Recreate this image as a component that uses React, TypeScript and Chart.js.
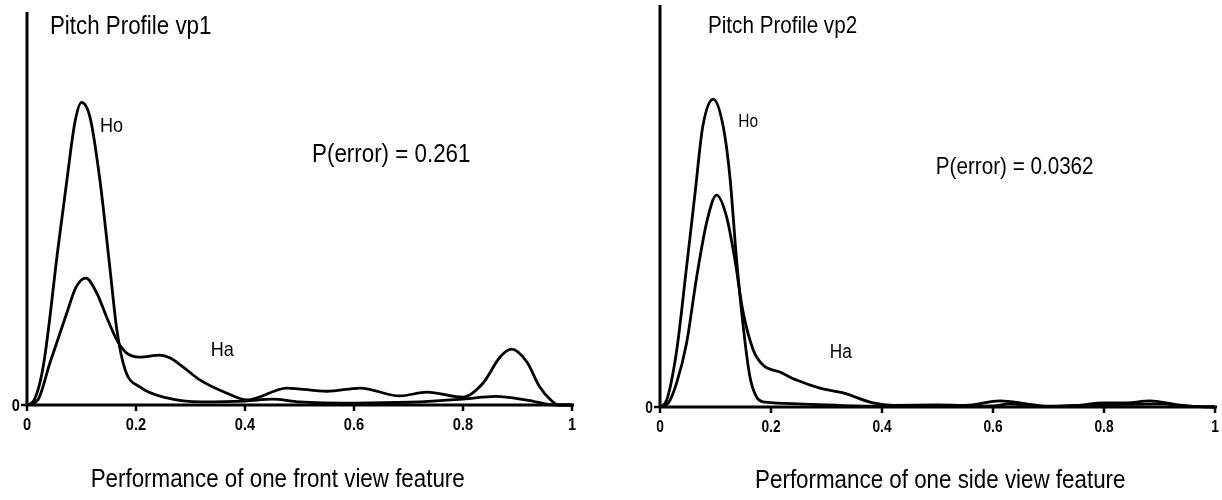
import React, { useEffect, useRef } from "react";
import { Chart, registerables } from "chart.js";

Chart.register(...registerables);

// ---------- data ----------
const xTickValues = [0, 0.2, 0.4, 0.6, 0.8, 1];
const xTickLabels = ["0", "0.2", "0.4", "0.6", "0.8", "1"];
const yTickValues = [0];
const yTickLabels = ["0"];

// Pitch Profile vp1 — Ho
const vp1HoX = [0, 0.011, 0.03, 0.057, 0.073, 0.088, 0.1, 0.116, 0.134, 0.152, 0.165, 0.18, 0.207, 0.257, 0.32, 0.4, 0.45, 0.5, 0.6, 0.7, 0.8, 0.86, 0.92, 0.97, 1];
const vp1HoY = [0, 0.8, 10, 40, 57, 72, 77, 73, 57, 35, 19, 9, 4.6, 1.8, 0.8, 1.0, 1.5, 0.8, 0.5, 0.7, 1.5, 2.2, 1.2, 0, 0];

// Pitch Profile vp1 — Ha
const vp1HaX = [0, 0.02, 0.042, 0.073, 0.09, 0.108, 0.128, 0.146, 0.165, 0.183, 0.207, 0.244, 0.262, 0.286, 0.317, 0.367, 0.404, 0.477, 0.55, 0.611, 0.684, 0.734, 0.8, 0.837, 0.868, 0.889, 0.917, 0.94, 0.963, 0.975, 1];
const vp1HaY = [0, 1.3, 10.7, 23.4, 30, 32.3, 28.5, 22.4, 16.5, 13.2, 12.2, 12.7, 12, 9.7, 6.4, 3, 1.3, 4.3, 3.5, 4.3, 2.3, 3.3, 2.0, 5.6, 12.2, 14.2, 11, 4.8, 1, 0, 0];

// Pitch Profile vp2 — Ho
const vp2HoX = [0, 0.012, 0.03, 0.048, 0.063, 0.077, 0.096, 0.114, 0.126, 0.138, 0.15, 0.162, 0.174, 0.19, 0.25, 0.35, 0.45, 0.6, 0.63, 0.68, 0.8, 0.9, 0.95, 1];
const vp2HoY = [0, 1.7, 14, 35, 53, 69.7, 76.6, 69.7, 57.2, 36.6, 20, 7.5, 2.5, 1.2, 0.8, 0.3, 0.2, 0.3, 0.8, 0.2, 0.5, 0.8, 0.2, 0];

// Pitch Profile vp2 — Ha
const vp2HaX = [0, 0.015, 0.03, 0.048, 0.066, 0.085, 0.102, 0.12, 0.135, 0.149, 0.168, 0.186, 0.216, 0.246, 0.288, 0.33, 0.384, 0.42, 0.5, 0.55, 0.613, 0.66, 0.7, 0.75, 0.8, 0.84, 0.883, 0.93, 0.97, 1];
const vp2HaY = [0, 1, 6, 16, 32.3, 46.5, 52.7, 47.3, 36.6, 24.1, 14.2, 10.4, 8.7, 6.7, 4.7, 3.5, 1, 0.4, 0.5, 0.4, 1.5, 0.8, 0.1, 0.4, 1.0, 1.0, 1.5, 0.6, 0.1, 0];

// ---------- styling ----------
const FONT = '"Liberation Sans", Arial, Helvetica, sans-serif';
const NARROW = 0.86;

type Note = { text: string; x: number; y: number; size: number };

type Panel = {
  width: number;
  padding: { left: number; right: number; top: number; bottom: number };
  series: { x: number[]; y: number[] }[];
  notes: Note[];
  axisTitle: string;
  axisTitleX: number;
  axisTitleOffset: number;
  tickSize: number;
  tickLabelOffset: number;
};

const panels: Panel[] = [
  {
    width: 611,
    padding: { left: 27, right: 39, top: 12, bottom: 95 },
    series: [
      { x: vp1HoX, y: vp1HoY },
      { x: vp1HaX, y: vp1HaY },
    ],
    notes: [
      { text: "Pitch Profile vp1", x: 0.042, y: 94.4, size: 26 },
      { text: "Ho", x: 0.134, y: 69.5, size: 21 },
      { text: "Ha", x: 0.337, y: 12.5, size: 21 },
      { text: "P(error) = 0.261", x: 0.523, y: 61.8, size: 26 },
    ],
    axisTitle: "Performance of one front view feature",
    axisTitleX: 0.46,
    axisTitleOffset: 82,
    tickSize: 17,
    tickLabelOffset: 25,
  },
  {
    width: 611,
    padding: { left: 49, right: 7, top: 5, bottom: 93 },
    series: [
      { x: vp2HoX, y: vp2HoY },
      { x: vp2HaX, y: vp2HaY },
    ],
    notes: [
      { text: "Pitch Profile vp2", x: 0.0865, y: 93, size: 24 },
      { text: "Ho", x: 0.141, y: 69.7, size: 18 },
      { text: "Ha", x: 0.306, y: 12.2, size: 20 },
      { text: "P(error) = 0.0362", x: 0.497, y: 58, size: 24 },
    ],
    axisTitle: "Performance of one side view feature",
    axisTitleX: 0.505,
    axisTitleOffset: 81,
    tickSize: 16,
    tickLabelOffset: 25,
  },
];

function drawText(
  ctx: CanvasRenderingContext2D,
  text: string,
  x: number,
  y: number,
  size: number,
  bold: boolean,
  align: CanvasTextAlign
) {
  ctx.save();
  ctx.font = `${bold ? "bold " : ""}${size}px ${FONT}`;
  ctx.textAlign = align;
  ctx.textBaseline = "alphabetic";
  ctx.fillStyle = "#000";
  ctx.translate(x, y);
  ctx.scale(NARROW, 1);
  ctx.fillText(text, 0, 0);
  ctx.restore();
}

function makePlugin(panel: Panel) {
  return {
    id: "axesAndNotes",
    afterDraw(chart: any) {
      const ctx: CanvasRenderingContext2D = chart.ctx;
      const xs = chart.scales.x;
      const ys = chart.scales.y;
      const x0 = xs.getPixelForValue(0);
      const x1 = xs.getPixelForValue(1);
      const y0 = ys.getPixelForValue(0);
      const yTop = ys.getPixelForValue(100);
      ctx.save();
      ctx.strokeStyle = "#000";
      ctx.lineCap = "butt";
      // x axis
      ctx.lineWidth = 3;
      ctx.beginPath();
      ctx.moveTo(x0 - 1, y0);
      ctx.lineTo(x1 + 2, y0);
      ctx.stroke();
      // y axis
      ctx.beginPath();
      ctx.moveTo(x0, y0 + 1);
      ctx.lineTo(x0, yTop);
      ctx.stroke();
      // x ticks
      ctx.lineWidth = 2.5;
      xTickValues.forEach((v) => {
        const px = xs.getPixelForValue(v);
        ctx.beginPath();
        ctx.moveTo(px, y0);
        ctx.lineTo(px, y0 + 6);
        ctx.stroke();
      });
      // y ticks
      yTickValues.forEach((v) => {
        const py = ys.getPixelForValue(v);
        ctx.beginPath();
        ctx.moveTo(x0 - 6, py);
        ctx.lineTo(x0, py);
        ctx.stroke();
      });
      ctx.restore();

      xTickValues.forEach((v, i) => {
        drawText(ctx, xTickLabels[i], xs.getPixelForValue(v), y0 + panel.tickLabelOffset, panel.tickSize, true, "center");
      });
      yTickValues.forEach((v, i) => {
        drawText(ctx, yTickLabels[i], x0 - 7, ys.getPixelForValue(v) + 6, panel.tickSize, true, "right");
      });

      panel.notes.forEach((n) => {
        drawText(ctx, n.text, xs.getPixelForValue(n.x), ys.getPixelForValue(n.y), n.size, false, "left");
      });

      drawText(ctx, panel.axisTitle, xs.getPixelForValue(panel.axisTitleX), y0 + panel.axisTitleOffset, 26, false, "center");
    },
  };
}

function PanelChart({ panel, left }: { panel: Panel; left: number }) {
  const ref = useRef<HTMLCanvasElement | null>(null);
  useEffect(() => {
    if (!ref.current) return;
    const chart = new Chart(ref.current, {
      type: "line",
      data: {
        datasets: panel.series.map((s) => ({
          data: s.x.map((x, i) => ({ x, y: s.y[i] })),
          borderColor: "#000",
          borderWidth: 2.8,
          pointRadius: 0,
          fill: false,
          cubicInterpolationMode: "monotone" as const,
          borderJoinStyle: "round" as const,
          clip: 10,
        })),
      },
      options: {
        animation: false,
        responsive: false,
        maintainAspectRatio: false,
        events: [],
        layout: { padding: panel.padding },
        scales: {
          x: { type: "linear", min: 0, max: 1, display: false },
          y: { type: "linear", min: 0, max: 100, display: false },
        },
        plugins: {
          legend: { display: false },
          tooltip: { enabled: false },
          title: { display: false },
        },
      },
      plugins: [makePlugin(panel)],
    });
    return () => chart.destroy();
  }, [panel]);
  return (
    <canvas
      ref={ref}
      width={panel.width}
      height={500}
      style={{ position: "absolute", left, top: 0, width: panel.width, height: 500 }}
    />
  );
}

export default function App() {
  return (
    <div style={{ position: "absolute", left: 0, top: 0, width: 1222, height: 500, background: "#fff" }}>
      <PanelChart panel={panels[0]} left={0} />
      <PanelChart panel={panels[1]} left={611} />
    </div>
  );
}
